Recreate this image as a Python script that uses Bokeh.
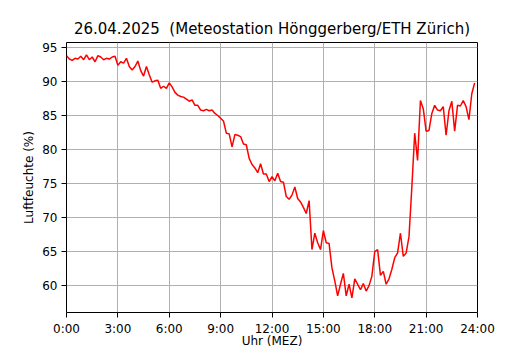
from bokeh.plotting import figure
from bokeh.models import FixedTicker, Range1d, ColumnDataSource
from bokeh.embed import file_html
from bokeh.resources import INLINE

title_text = "26.04.2025 \u00a0(Meteostation Hönggerberg/ETH Zürich)"
x_label = "Uhr (MEZ)"
y_label = "Luftfeuchte (%)"

x_ticks = [0, 3, 6, 9, 12, 15, 18, 21, 24]
x_tick_labels = ["0:00", "3:00", "6:00", "9:00", "12:00", "15:00", "18:00", "21:00", "24:00"]
y_ticks = [60, 65, 70, 75, 80, 85, 90, 95]

# relative humidity, 10-minute values from 0:00 to 23:50
humidity = [
    93.8, 93.3, 93.1, 93.4, 93.3, 93.7, 93.2, 93.9, 93.2, 93.6, 92.9, 93.8,
    93.6, 93.2, 93.4, 93.3, 93.6, 93.7,
    92.4, 92.9, 92.7, 93.4, 92.2, 91.7, 92.2, 93.0, 91.6, 90.8, 92.2, 91.0,
    89.9, 90.1, 90.2, 89.0, 89.3, 89.0,
    89.8, 89.2, 88.4, 88.0, 87.8, 87.7, 87.4, 87.1, 87.3, 86.5, 86.5, 85.8,
    85.7, 85.9, 85.7, 85.8, 85.3, 85.0,
    84.6, 84.2, 82.4, 82.3, 80.4, 82.2, 82.1, 81.9, 80.8, 80.7, 78.7, 77.8,
    77.3, 76.6, 77.9, 76.4, 76.4, 75.3,
    76.0, 75.4, 76.5, 75.3, 75.2, 73.1, 72.7, 73.3, 74.5, 72.8, 72.3, 71.5,
    70.6, 72.5, 65.3, 67.7, 66.3, 65.3,
    68.1, 66.3, 66.2, 62.6, 60.7, 58.5, 60.2, 61.8, 58.5, 60.2, 58.2, 61.0,
    60.2, 59.4, 60.3, 59.2, 60.0, 61.4,
    65.0, 65.3, 61.5, 62.1, 60.2, 61.0, 62.4, 64.1, 64.8, 67.7, 64.3, 64.8,
    67.2, 74.5, 82.4, 78.4, 87.2, 86.0,
    82.7, 82.8, 85.3, 86.5, 85.8, 85.7, 86.3, 82.1, 85.7, 87.1, 82.7, 86.5,
    86.4, 87.2, 86.3, 84.4, 88.2, 89.8,
]
hours = [i / 6 for i in range(len(humidity))]

src = ColumnDataSource(dict(h=hours, rh=humidity))

FONT = "DejaVu Sans"

p = figure(width=530, height=350, output_backend="svg", toolbar_location=None,
           x_range=Range1d(0, 24), y_range=Range1d(56.05, 95.73),
           min_border_left=66, min_border_right=53, min_border_top=42, min_border_bottom=0)
p.title.text = title_text
p.title.align = "center"
p.title.text_font = FONT
p.title.text_font_size = "15px"
p.title.text_font_style = "normal"
p.title.text_color = "black"

p.line("h", "rh", source=src, color="red", line_width=1.5)

p.xaxis.ticker = FixedTicker(ticks=x_ticks)
p.xaxis.major_label_overrides = {t: l for t, l in zip(x_ticks, x_tick_labels)}
p.yaxis.ticker = FixedTicker(ticks=y_ticks)
p.xaxis.axis_label = x_label
p.yaxis.axis_label = y_label

for ax in (p.xaxis, p.yaxis):
    ax.axis_label_text_font = FONT
    ax.axis_label_text_font_size = "12px"
    ax.axis_label_text_font_style = "normal"
    ax.axis_label_text_color = "black"
    ax.major_label_text_font = FONT
    ax.major_label_text_font_size = "12px"
    ax.major_label_text_color = "black"
    ax.axis_line_color = None
    ax.major_tick_out = 5
    ax.major_tick_in = 0
    ax.minor_tick_line_color = None
    ax.major_tick_line_color = "black"

p.xaxis.major_label_standoff = 4
p.xaxis.axis_label_standoff = -5
p.yaxis.major_label_standoff = 4
p.yaxis.axis_label_standoff = 3

p.outline_line_color = "black"
p.outline_line_width = 1
p.outline_line_alpha = 1
p.grid.grid_line_color = "#b0b0b0"
p.grid.grid_line_width = 1
p.background_fill_color = "white"
p.border_fill_color = "white"

open("out.html", "w").write(file_html(p, INLINE))
